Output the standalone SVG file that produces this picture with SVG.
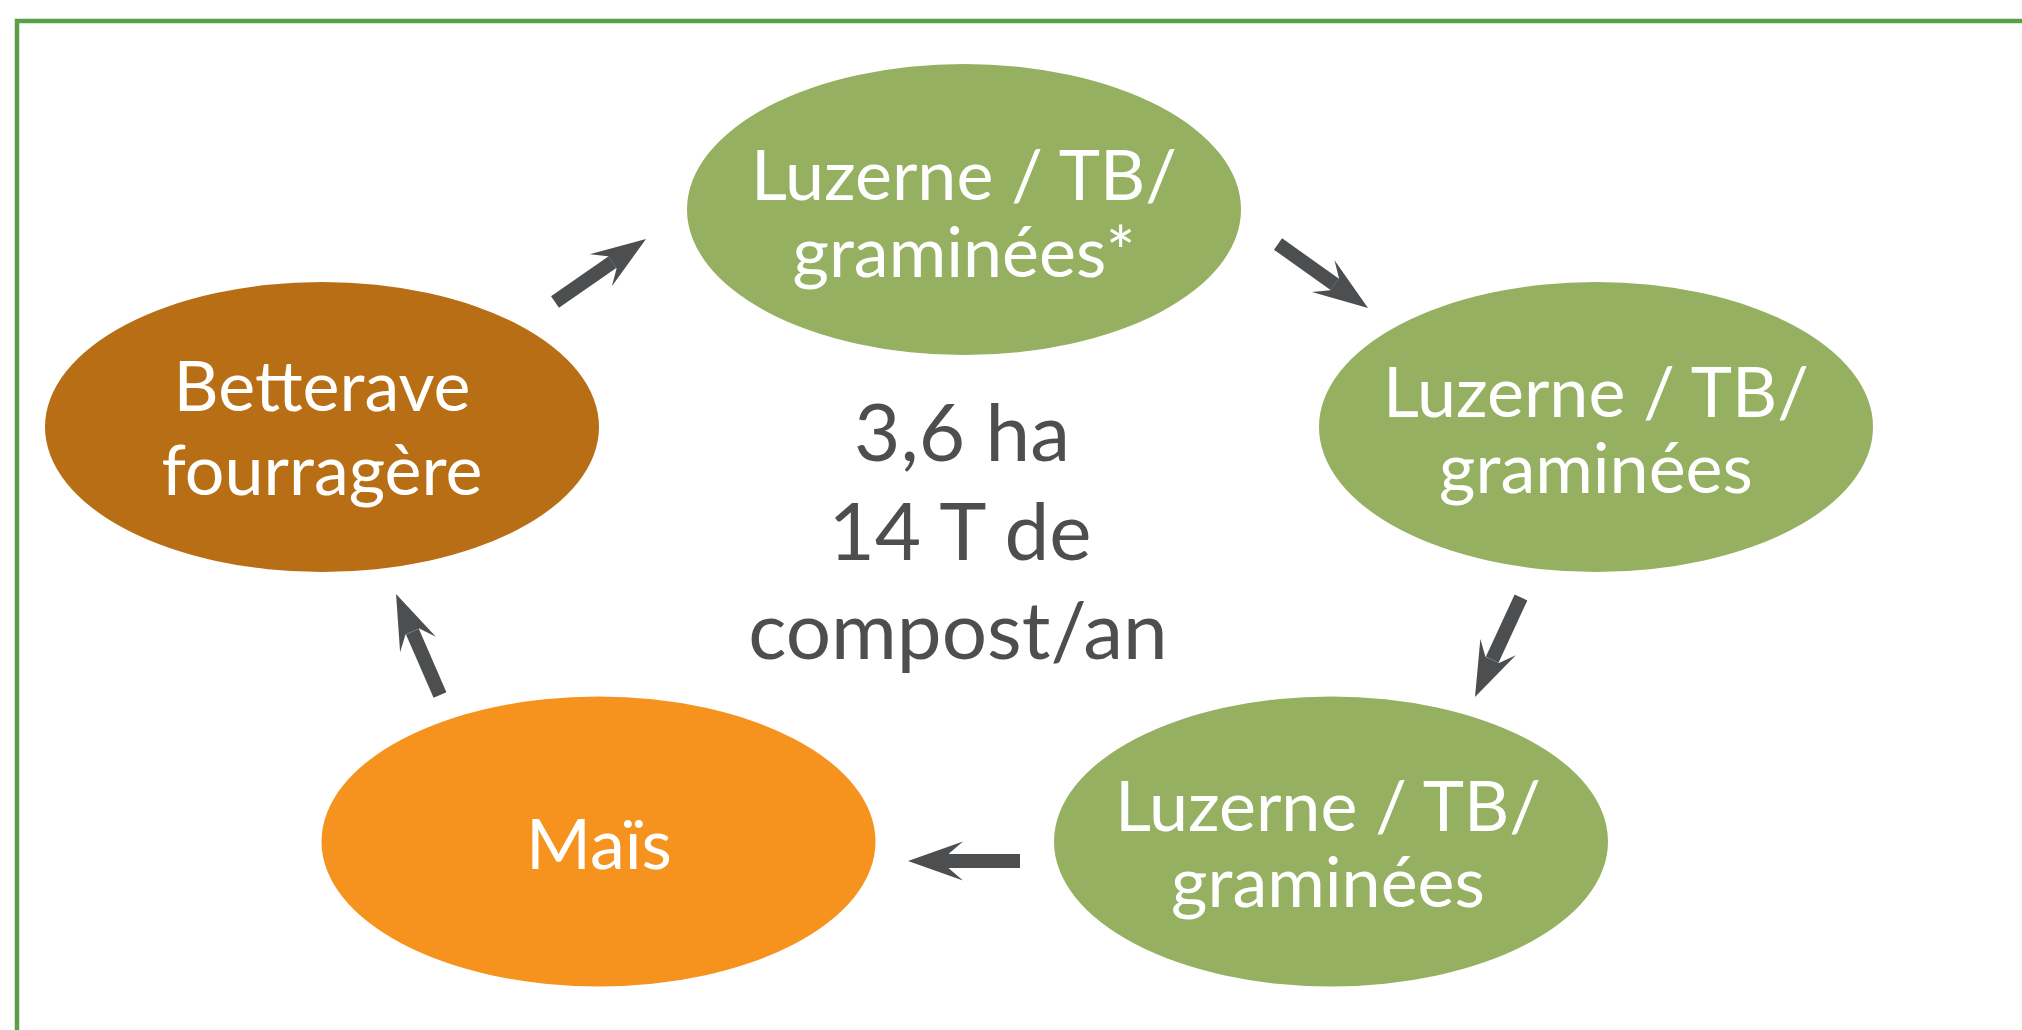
<svg xmlns="http://www.w3.org/2000/svg" width="2022" height="1030" viewBox="0 0 2022 1030">
<style>
.node-text{font-family:Lato,"Open Sans","Liberation Sans",sans-serif;font-size:70px;fill:#ffffff;text-anchor:middle}
.center-text{font-family:Lato,"Open Sans","Liberation Sans",sans-serif;font-size:80px;fill:#4d4e50;text-anchor:middle}
.green{fill:#94b060}
.conn{stroke:#4d4e50;stroke-width:14;fill:none;marker-end:url(#stealth)}
</style>
<defs>
<marker id="stealth" markerUnits="userSpaceOnUse" viewBox="0 0 60 44" markerWidth="60" markerHeight="44" refX="15" refY="22" orient="auto">
<path d="M1,2.5 L56,22 L1,41.5 L15,29.5 L15,14.5 Z" fill="#4d4e50"/>
</marker>
</defs>
<rect x="0" y="0" width="2022" height="1030" fill="#ffffff"/>
<rect x="17" y="21" width="2100" height="1100" fill="none" stroke="#5b9f48" stroke-width="4.5"/>
<g id="node-luzerne-1">
<ellipse class="green" cx="964" cy="209.5" rx="277" ry="145.5"/>
<text class="node-text" x="964" y="200">Luzerne / TB/</text>
<text class="node-text" x="964" y="277">graminées*</text>
</g>
<g id="node-luzerne-2">
<ellipse class="green" cx="1596" cy="427" rx="277" ry="145"/>
<text class="node-text" x="1596" y="417">Luzerne / TB/</text>
<text class="node-text" x="1596" y="493">graminées</text>
</g>
<g id="node-luzerne-3">
<ellipse class="green" cx="1331" cy="841.5" rx="277" ry="145"/>
<text class="node-text" x="1328" y="831">Luzerne / TB/</text>
<text class="node-text" x="1328" y="907">graminées</text>
</g>
<g id="node-mais">
<ellipse cx="598.5" cy="841.5" rx="277" ry="145" fill="#f6931e"/>
<text class="node-text" x="599" y="869">Maïs</text>
</g>
<g id="node-betterave">
<ellipse cx="322" cy="427" rx="277" ry="145" fill="#b86e14"/>
<text class="node-text" x="322" y="411">Betterave</text>
<text class="node-text" x="322" y="495">fourragère</text>
</g>
<g id="center-label">
<text class="center-text" x="962" y="461">3,6 ha</text>
<text class="center-text" x="960" y="560">14 T de</text>
<text class="center-text" x="958" y="659">compost/an</text>
</g>
<g id="connectors">
<line class="conn" x1="555" y1="302" x2="612.3" y2="262.3"/>
<line class="conn" x1="1278" y1="244" x2="1334.6" y2="284.2"/>
<line class="conn" x1="1521" y1="597.5" x2="1492.2" y2="659.8"/>
<line class="conn" x1="1020" y1="861" x2="949" y2="861"/>
<line class="conn" x1="440" y1="695" x2="412.4" y2="631.6"/>
</g>
</svg>
